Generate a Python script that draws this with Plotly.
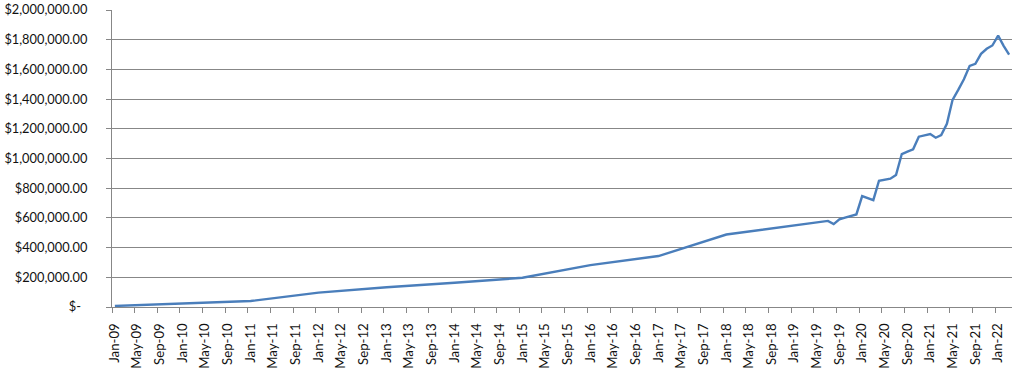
import plotly.graph_objects as go

months = ["2009-01", "2010-01", "2011-01", "2012-01", "2013-01", "2014-01", "2015-01",
          "2016-01", "2017-01", "2018-01", "2019-01", "2019-07", "2019-08", "2019-09",
          "2019-10", "2019-11", "2019-12", "2020-01", "2020-02", "2020-03", "2020-04",
          "2020-05", "2020-06", "2020-07", "2020-08", "2020-09", "2020-10", "2020-11",
          "2020-12", "2021-01", "2021-02", "2021-03", "2021-04", "2021-05", "2021-06",
          "2021-07", "2021-08", "2021-09", "2021-10", "2021-11", "2021-12", "2022-01",
          "2022-02", "2022-03"]
values = [7000, 23000, 40000, 97000, 133000, 163000, 197000,
          282000, 343000, 488000, 547000, 580000, 558000, 590000,
          602000, 613000, 623000, 747000, 733000, 720000, 850000,
          857000, 864000, 889000, 1030000, 1046000, 1062000, 1147000,
          1156000, 1165000, 1140000, 1158000, 1233000, 1395000, 1462000,
          1534000, 1624000, 1638000, 1705000, 1739000, 1761000, 1827000,
          1759000, 1700000]

tick_months = ["2009-01", "2009-05", "2009-09", "2010-01", "2010-05", "2010-09",
               "2011-01", "2011-05", "2011-09", "2012-01", "2012-05", "2012-09",
               "2013-01", "2013-05", "2013-09", "2014-01", "2014-05", "2014-09",
               "2015-01", "2015-05", "2015-09", "2016-01", "2016-05", "2016-09",
               "2017-01", "2017-05", "2017-09", "2018-01", "2018-05", "2018-09",
               "2019-01", "2019-05", "2019-09", "2020-01", "2020-05", "2020-09",
               "2021-01", "2021-05", "2021-09", "2022-01"]
tick_labels = ["Jan-09", "May-09", "Sep-09", "Jan-10", "May-10", "Sep-10",
               "Jan-11", "May-11", "Sep-11", "Jan-12", "May-12", "Sep-12",
               "Jan-13", "May-13", "Sep-13", "Jan-14", "May-14", "Sep-14",
               "Jan-15", "May-15", "Sep-15", "Jan-16", "May-16", "Sep-16",
               "Jan-17", "May-17", "Sep-17", "Jan-18", "May-18", "Sep-18",
               "Jan-19", "May-19", "Sep-19", "Jan-20", "May-20", "Sep-20",
               "Jan-21", "May-21", "Sep-21", "Jan-22"]

y_ticks = [0, 200000, 400000, 600000, 800000, 1000000, 1200000, 1400000,
           1600000, 1800000, 2000000]
y_labels = ["$-\u00a0\u00a0", "$200,000.00", "$400,000.00", "$600,000.00",
            "$800,000.00", "$1,000,000.00", "$1,200,000.00", "$1,400,000.00",
            "$1,600,000.00", "$1,800,000.00", "$2,000,000.00"]

GRID = "#878787"
FONT = "Lato"
TXT = "#111111"

fig = go.Figure()
fig.add_trace(go.Scatter(
    x=months, y=values, mode="lines",
    xperiod="M1", xperiodalignment="middle",
    line=dict(color="#4A7EBB", width=2.4),
    hoverinfo="skip", showlegend=False,
))

fig.update_layout(
    width=1019, height=371,
    margin=dict(l=112, r=7, t=10, b=64, autoexpand=False),
    paper_bgcolor="white", plot_bgcolor="white",
    font=dict(family=FONT, size=13, color=TXT),
)

fig.update_xaxes(
    type="date",
    automargin=False,
    range=["2009-01-01", "2022-04-01"],
    tickmode="array",
    tickvals=[m + "-16" for m in tick_months],
    ticktext=tick_labels,
    tickangle=-90,
    ticks="",
    ticklabelstandoff=10,
    showgrid=False,
    showline=True, linecolor=GRID, linewidth=1,
    zeroline=False,
    minor=dict(dtick="M4", tick0="2009-01-01", ticks="outside", ticklen=5,
               tickcolor=GRID, tickwidth=1, showgrid=False),
    tickfont=dict(family=FONT, size=13.2, color=TXT),
)

fig.update_yaxes(
    automargin=False,
    range=[0, 2000000],
    tickmode="array",
    tickvals=y_ticks,
    ticktext=y_labels,
    ticks="outside", ticklen=5, tickcolor=GRID, tickwidth=1,
    showgrid=True, gridcolor=GRID, gridwidth=1,
    showline=True, linecolor=GRID, linewidth=1,
    zeroline=False,
    ticklabelstandoff=16,
    tickfont=dict(family=FONT, size=12.8, color=TXT),
)

fig.write_html("out.html")
